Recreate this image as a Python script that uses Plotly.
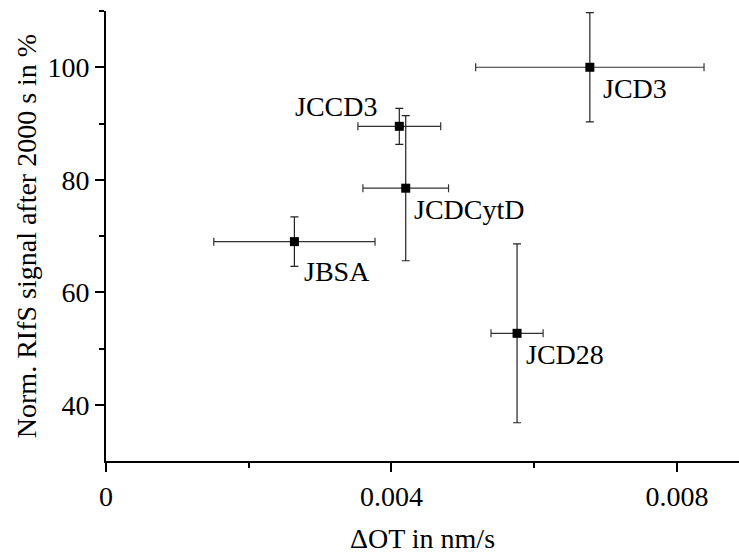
import plotly.graph_objects as go

# Data
labels = ["JCD3", "JCCD3", "JCDCytD", "JBSA", "JCD28"]
delta_ot = [0.00678, 0.00411, 0.00420, 0.00264, 0.00576]       # ΔOT in nm/s
delta_ot_err = [0.00160, 0.00058, 0.00060, 0.00113, 0.000365]
signal = [100.0, 89.5, 78.5, 69.0, 52.7]                        # Norm. RIfS signal in %
signal_err = [9.7, 3.2, 12.9, 4.4, 15.9]

# Label placement (pixel offsets from marker) – style only
label_dx = [11, -20, 6, 8, 7]
label_dy = [-21, 20, -21, -30, -21]
label_anchor = ["left", "right", "left", "left", "left"]

FONT = '"Liberation Serif", "Times New Roman", Times, serif'

fig = go.Figure()
fig.add_trace(go.Scatter(
    x=delta_ot, y=signal, mode="markers",
    marker=dict(symbol="square", size=9, color="black"),
    error_x=dict(type="data", array=delta_ot_err, color="#333333", thickness=1.2, width=4),
    error_y=dict(type="data", array=signal_err, color="#222222", thickness=1.2, width=4),
    showlegend=False, hoverinfo="skip",
))

for lab, xv, yv, dx, dy, anc in zip(labels, delta_ot, signal, label_dx, label_dy, label_anchor):
    fig.add_annotation(x=xv, y=yv, xref="x", yref="y", text=lab, showarrow=False,
                       xanchor=anc, yanchor="middle", xshift=dx, yshift=dy,
                       font=dict(family=FONT, size=28, color="black"))

fig.update_layout(
    width=739, height=554,
    margin=dict(l=106, r=0, t=11, b=93, autoexpand=False),
    paper_bgcolor="white", plot_bgcolor="white",
    font=dict(family=FONT, size=28, color="black"),
    xaxis=dict(
        range=[0, 0.00887], tickvals=[0, 0.004, 0.008], ticktext=["0", "0.004", "0.008"],
        showgrid=False, zeroline=False, showline=True, linecolor="black", linewidth=2,
        ticks="outside", ticklen=9, tickwidth=2, tickcolor="black",
        minor=dict(tickvals=[0.002, 0.006], ticks="outside", ticklen=5, tickwidth=2, tickcolor="black"),
        title=dict(text="ΔOT in nm/s", font=dict(family=FONT, size=28), standoff=22),
        tickfont=dict(family=FONT, size=28), automargin=False,
    ),
    yaxis=dict(
        range=[30, 110], tickvals=[40, 60, 80, 100],
        showgrid=False, zeroline=False, showline=True, linecolor="black", linewidth=2,
        ticks="outside", ticklen=9, tickwidth=2, tickcolor="black",
        minor=dict(tickvals=[50, 70, 90, 110], ticks="outside", ticklen=5, tickwidth=2, tickcolor="black"),
        title=dict(text="Norm. RIfS signal after 2000 s in %", font=dict(family=FONT, size=28), standoff=3),
        tickfont=dict(family=FONT, size=28), automargin=False,
    ),
)

fig.write_html("out.html", config={"displayModeBar": False},
               post_script="document.body.style.margin='0';document.body.style.padding='0';")
